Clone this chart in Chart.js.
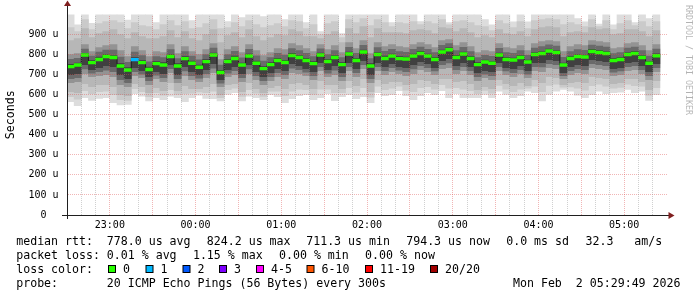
<!DOCTYPE html>
<html><head><meta charset="utf-8">
<script src="https://cdn.jsdelivr.net/npm/chart.js@4.4.0/dist/chart.umd.min.js"></script>
<style>html,body{margin:0;padding:0;background:#fff;}canvas{display:block;}</style>
</head><body>
<canvas id="c" width="697" height="297" style="width:697px;height:297px"></canvas>
<script>
// ---- data (5-minute steps starting 22:30) ----
const hourLabels = ['23:00','00:00','01:00','02:00','03:00','04:00','05:00'];
const median = [740,748,798,760,776,790,786,743,723,775,
760,726,755,748,791,743,780,757,737,765,
798,711,766,781,748,793,757,730,750,771,
761,796,785,771,755,798,766,785,750,803,
771,813,743,800,781,793,780,778,793,806,
793,776,813,824,786,803,781,750,763,757,
798,776,773,785,763,800,805,818,810,748,
781,790,788,816,811,805,771,776,800,806,
785,757,794];
const lossCount = [0,0,0,0,0,0,0,0,0,1,
0,0,0,0,0,0,0,0,0,0,
0,0,0,0,0,0,0,0,0,0,
0,0,0,0,0,0,0,0,0,0,
0,0,0,0,0,0,0,0,0,0,
0,0,0,0,0,0,0,0,0,0,
0,0,0,0,0,0,0,0,0,0,
0,0,0,0,0,0,0,0,0,0,
0,0,0];
const pingMax = [1010,948,1010,956,1010,1010,1010,1010,972,1010,
1010,1010,960,1010,1010,1010,1010,970,1010,1010,
1010,1010,965,1010,985,1010,1010,990,1010,1010,
975,1010,1010,960,1010,915,1010,1010,905,1010,
1010,1010,1010,1010,1010,960,1010,1010,1010,965,
1010,1010,1010,960,1010,1010,1010,1010,975,948,
1010,1010,964,1010,964,1010,1010,1010,1010,1010,
1010,980,964,1010,952,1010,948,1010,1010,960,
1010,980,1010];
const ping19 = [935,915,975,925,955,965,970,960,930,960,
945,940,925,950,970,945,965,930,935,955,
975,930,935,960,940,970,950,935,945,955,
940,970,965,930,950,900,955,965,885,975,
960,980,945,975,960,940,960,955,965,950,
965,955,975,948,965,970,960,945,940,920,
970,955,935,965,930,970,975,980,975,950,
960,950,940,975,940,970,925,955,970,945,
965,940,965];
const ping18 = [870,880,930,885,905,915,925,900,880,910,
890,880,880,890,920,885,915,880,870,900,
925,860,895,910,885,925,890,870,885,900,
895,925,915,890,890,880,900,915,860,930,
905,940,885,930,910,910,910,905,920,925,
920,905,935,930,915,930,910,885,895,885,
925,905,900,915,890,925,935,940,935,890,
910,915,910,935,925,930,900,905,925,925,
915,890,920];
const ping15 = [800,805,850,815,835,845,850,820,790,840,
820,790,815,810,850,805,840,815,800,825,
855,775,825,840,810,850,820,795,810,830,
825,855,845,830,815,850,825,845,810,860,
830,870,805,860,840,850,840,835,850,860,
850,835,870,875,845,860,840,810,820,815,
855,835,830,845,820,855,865,870,865,815,
840,850,845,870,865,860,830,835,855,860,
845,820,850];
const ping14 = [776,782,828,792,812,822,822,788,762,812,
795,764,790,785,825,780,815,792,774,800,
832,748,800,816,784,826,794,768,785,806,
798,830,820,806,790,829,800,820,785,836,
806,846,780,835,816,826,815,811,826,838,
826,810,846,855,820,836,815,785,796,791,
831,810,806,820,796,832,840,849,842,786,
815,825,821,848,843,837,805,810,832,838,
820,793,827];
const ping12 = [752,758,805,770,788,800,795,755,735,785,
770,738,765,760,800,755,790,768,748,775,
808,722,776,792,758,803,768,740,760,782,
772,806,795,782,765,808,776,795,760,813,
782,823,755,810,792,803,790,788,803,816,
803,786,823,834,796,813,791,760,773,767,
808,786,783,795,773,810,815,828,820,758,
791,800,798,826,821,815,781,786,810,816,
795,767,804];
const ping9 = [700,705,750,725,735,745,740,700,680,735,
720,690,715,705,750,700,740,715,700,725,
755,675,725,740,705,750,715,690,710,730,
720,755,745,730,715,760,725,745,710,760,
730,770,700,760,740,755,740,735,750,765,
755,735,770,780,745,760,740,710,720,715,
760,735,730,745,720,760,760,775,770,710,
740,750,745,775,770,765,730,735,760,765,
745,715,755];
const ping7 = [680,685,728,708,715,722,715,675,660,715,
702,670,698,685,730,680,718,695,682,705,
732,658,708,720,685,728,695,670,690,710,
700,732,725,712,695,740,708,722,690,740,
710,750,680,740,720,735,722,715,728,745,
735,718,750,758,725,740,720,690,702,695,
740,718,710,725,702,740,738,755,750,695,
720,730,725,755,750,745,712,718,740,745,
725,695,735];
const ping6 = [660,665,705,690,695,700,690,650,640,695,
685,650,680,665,710,660,695,675,665,685,
710,640,690,700,665,705,675,650,670,690,
680,710,705,695,675,720,690,700,670,720,
690,730,660,720,700,715,705,695,705,725,
715,700,730,735,705,720,700,670,685,675,
720,700,690,705,685,720,715,735,730,680,
700,710,705,735,730,725,695,700,720,725,
705,675,715];
const ping3 = [615,610,655,640,650,650,640,600,595,655,
640,610,635,620,660,620,645,630,630,640,
655,600,650,655,615,660,630,610,635,645,
630,655,660,650,630,670,650,650,630,670,
645,680,615,675,655,665,665,650,655,675,
670,655,680,680,665,670,655,625,640,630,
675,655,645,660,645,675,660,690,685,650,
660,665,660,690,685,680,655,660,680,680,
665,625,670];
const ping2 = [590,578,620,605,615,618,600,575,572,630,
615,590,610,598,625,602,605,608,614,610,
618,585,625,632,592,625,608,592,618,618,
595,618,628,625,602,628,628,610,610,635,
612,635,588,642,625,632,642,622,615,635,
640,628,650,632,635,628,620,605,621,608,
646,628,615,628,632,642,615,646,652,638,
639,632,622,645,652,642,632,636,653,645,
642,598,635];
const pingMin = [565,545,585,572,582,585,560,549,552,605,
593,569,585,575,593,585,565,585,598,582,
580,569,602,610,569,593,585,575,600,590,
560,580,595,600,575,585,605,570,590,600,
580,590,560,610,595,600,620,595,575,595,
610,600,620,585,605,585,585,585,602,585,
618,602,585,595,618,610,569,602,618,626,
618,598,585,600,618,605,610,612,626,610,
618,572,600];
const lossLabels = ['0','1','2','3','4-5','6-10','11-19','20/20'];
const lossLimits = [0,1,2,3,5,10,19,20];
const lossColors = ['#26ff00','#00b8ff','#0059ff','#7e00ff','#ff00ff','#ff5500','#ff0000','#a10000'];
const statsRtt = ['median rtt:','778.0 us avg','824.2 us max','711.3 us min','794.3 us now','0.0 ms sd','32.3   am/s'];
const statsLoss = ['packet loss:','0.01 % avg','1.15 % max','0.00 % min','0.00 % now'];
const probeText = ['probe:','20 ICMP Echo Pings (56 Bytes) every 300s','Mon Feb  2 05:29:49 2026'];

// ---- build ----
const STEP = 5;
const xs = median.map((_, i) => i * STEP + STEP / 2);
function band(lo, hi, color, order) {
  return {type:'bar', data: lo.map((v,i)=>({x: xs[i], y:[v, hi[i]]})),
    backgroundColor: color, borderWidth: 0, grouped: false,
    barPercentage: 1, categoryPercentage: 1, order};
}
function lossColor(n){ for (let k=0;k<lossLimits.length;k++){ if (n<=lossLimits[k]) return lossColors[k]; } return lossColors[lossColors.length-1]; }
const medLine = median.map((v,i)=>({x:i*STEP, y:v}));
medLine.push({x: median.length*STEP, y: median[median.length-1]});

const MONO = '"DejaVu Sans Mono", monospace';
const GRAY = 'rgba(143,143,143,0.42)';
const RED = 'rgba(222,79,79,0.42)';
const deco = {
  id: 'deco',
  afterDatasetsDraw(chart) {
    const ctx = chart.ctx, a = chart.chartArea, xS = chart.scales.x, yS = chart.scales.y;
    ctx.save();
    yS.ticks.forEach(t => {
      const v = t.value; if (v <= yS.min || v >= yS.max) return;
      const py = Math.floor(yS.getPixelForValue(v));
      ctx.fillStyle = v % 100 === 0 ? RED : GRAY;
      for (let px = Math.floor(a.left) + 1; px < a.right; px += 2) ctx.fillRect(px, py, 1, 1);
    });
    xS.ticks.forEach(t => {
      const v = t.value; if (v <= xS.min || v >= xS.max) return;
      const px = Math.floor(xS.getPixelForValue(v));
      ctx.fillStyle = v % 30 === 0 ? RED : GRAY;
      for (let py = Math.floor(a.bottom) - 1; py >= a.top; py -= 2) ctx.fillRect(px, py, 1, 1);
    });
    ctx.restore();
  },
  afterDraw(chart) {
    const ctx = chart.ctx;
    ctx.save();
    // axes
    ctx.fillStyle = 'rgb(31,31,31)';
    ctx.fillRect(62, 215, 607, 1);
    ctx.fillRect(67, 5, 1, 214);
    ctx.fillStyle = 'rgb(128,31,31)';
    ctx.beginPath(); ctx.moveTo(668.5,212); ctx.lineTo(674.5,215.5); ctx.lineTo(668.5,219); ctx.closePath(); ctx.fill();
    ctx.beginPath(); ctx.moveTo(64,6); ctx.lineTo(67.5,0.5); ctx.lineTo(71,6); ctx.closePath(); ctx.fill();
    // legend
    ctx.fillStyle = '#000';
    ctx.font = '11.6px ' + MONO;
    ctx.textBaseline = 'middle';
    ctx.textAlign = 'left';
    const r1x = [16.2,106.8,206.8,306.2,406.2,506.2,585.5];
    statsRtt.forEach((t,i)=>ctx.fillText(t, r1x[i], 241.5));
    const r2x = [16.2,106.8,192.9,279.0,365.1];
    statsLoss.forEach((t,i)=>ctx.fillText(t, r2x[i], 255.5));
    ctx.fillText('loss color:', 16.2, 269.5);
    const bx = [108,145.5,182.5,219,256,306.5,365,430];
    lossLabels.forEach((t,i)=>{
      ctx.fillStyle = lossColors[i];
      ctx.fillRect(bx[i]+0.5, 265.5, 7, 7);
      ctx.strokeStyle = '#000'; ctx.lineWidth = 1;
      ctx.strokeRect(bx[i]+0.5, 265.5, 7, 7);
      ctx.fillStyle = '#000';
      ctx.fillText(t, bx[i]+15, 269.5);
    });
    ctx.fillText(probeText[0], 16.2, 283.5);
    ctx.fillText(probeText[1], 106.8, 283.5);
    ctx.textAlign = 'right';
    ctx.fillText(probeText[2], 680.5, 283.5);
    // watermark
    ctx.translate(688.5, 5);
    ctx.rotate(Math.PI/2);
    ctx.textAlign = 'left';
    ctx.fillStyle = 'rgba(0,0,0,0.3)';
    ctx.font = '8.3px ' + MONO;
    ctx.fillText('RRDTOOL / TOBI OETIKER', 0, 0);
    ctx.restore();
  }
};

new Chart(document.getElementById('c'), {
  type: 'bar',
  data: { datasets: [
    {type:'bar', data: median.map((v,i)=>({x: xs[i], y:[v-7, v+7]})),
      backgroundColor: lossCount.map(lossColor), borderWidth:0, grouped:false,
      barPercentage:1, categoryPercentage:1, order:1},
    {type:'line', data: medLine, stepped: true, borderColor:'#1e1e1e', borderWidth:1,
      pointRadius:0, fill:false, order:2},
    band(ping9, ping12, '#404040', 3),
    band(ping7, ping14, '#6a6a6a', 4),
    band(ping6, ping15, '#939393', 5),
    band(ping3, ping18, '#b7b7b7', 6),
    band(ping2, ping19, '#cacaca', 7),
    band(pingMin, pingMax, '#dddddd', 8)
  ]},
  options: {
    responsive: false, animation: false, devicePixelRatio: 1,
    layout: { padding: {left:0, top:13, right:30, bottom:0} },
    plugins: { legend:{display:false}, tooltip:{enabled:false} },
    scales: {
      x: { type:'linear', min:0, max:420, offset:false,
        afterFit(s){ s.height = 82; },
        grid: { display:false, offset:false, drawTicks:false },
        border: { display:false },
        ticks: { stepSize:10, autoSkip:false, maxRotation:0, padding:4, color:'#000',
          font:{family:MONO, size:10},
          callback: (v)=> ((v-30)%60===0 ? hourLabels[(v-30)/60] : '') }
      },
      y: { type:'linear', min:0, max:1000,
        afterFit(s){ s.width = 67; },
        grid: { display:false, drawTicks:false },
        border: { display:false },
        title: { display:true, text:'Seconds', color:'#000', font:{family:MONO, size:11.6}, padding:{top:4,bottom:4} },
        ticks: { stepSize:50, padding:8.5, color:'#000', font:{family:MONO, size:10},
          callback: (v)=> v===0 ? '0  ' : ((v%100===0 && v<1000) ? (v + ' u') : '') }
      }
    }
  },
  plugins: [deco]
});
</script>
</body></html>
